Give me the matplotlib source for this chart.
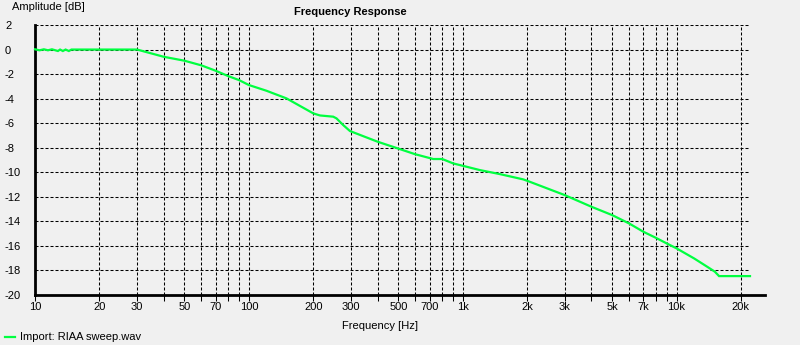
import matplotlib
matplotlib.use("Agg")
import matplotlib.pyplot as plt
from matplotlib.lines import Line2D
from matplotlib.ticker import FixedLocator, NullFormatter

plt.rcParams['font.family'] = ['Liberation Sans', 'DejaVu Sans']

# Data
freq_hz = [10, 10.5, 11, 11.5, 12, 12.8, 13.1, 13.5, 13.9, 14.4, 14.8, 16, 20, 25, 30,
           40, 50, 60, 70, 80, 90, 100, 121, 150, 200, 215, 248, 257, 276, 297,
           400, 508, 597, 700, 728, 802, 903, 1000, 1202, 1493, 1919, 2000,
           3000, 4000, 5000, 6000, 7000, 8000, 9000, 10000, 12080, 14060, 15100,
           15800, 22050]
amp_db = [0.02, -0.06, 0.02, -0.06, 0.02, -0.12, 0.0, -0.12, 0.0, -0.12, 0.0, 0.0, 0.0, 0.0, 0.0,
          -0.59, -0.91, -1.29, -1.73, -2.16, -2.49, -2.89, -3.36, -3.98, -5.2, -5.37, -5.47, -5.61, -6.15, -6.64,
          -7.51, -8.11, -8.52, -8.84, -8.92, -8.92, -9.28, -9.47, -9.82, -10.15, -10.58, -10.69,
          -11.86, -12.81, -13.49, -14.17, -14.85, -15.34, -15.8, -16.2, -17.02, -17.75, -18.1,
          -18.46, -18.46]

x_major = [10, 20, 30, 50, 70, 100, 200, 300, 500, 700, 1000, 2000, 3000, 5000, 7000, 10000, 20000]
x_labels = ['10', '20', '30', '50', '70', '100', '200', '300', '500', '700', '1k', '2k', '3k', '5k', '7k', '10k', '20k']
x_minor = [40, 60, 80, 90, 400, 600, 800, 900, 4000, 6000, 8000, 9000]
y_ticks = [2, 0, -2, -4, -6, -8, -10, -12, -14, -16, -18, -20]

series_name = 'Import: RIAA sweep.wav'
bg = '#F0F0F0'
green = '#00FF40'

W, H = 800, 345
fig = plt.figure(figsize=(W / 100, H / 100), dpi=100, facecolor=bg)
L, R, T, B = 35, 750, 25, 295
ax = fig.add_axes([L / W, 1 - B / H, (R - L) / W, (B - T) / H], facecolor=bg)

ax.plot(freq_hz, amp_db, color=green, lw=1.6, solid_joinstyle='miter', zorder=3, clip_on=False)

ax.set_xscale('log')
ax.set_xlim(10, 22050)
ax.set_ylim(-20, 2)

ax.xaxis.set_major_locator(FixedLocator(x_major))
ax.xaxis.set_minor_locator(FixedLocator(x_minor))
ax.set_xticklabels(x_labels)
ax.xaxis.set_minor_formatter(NullFormatter())
ax.set_yticks(y_ticks)
ax.set_yticklabels([str(v) for v in y_ticks])

dash = (0, (2.9, 1.9))
ax.grid(True, which='both', axis='x', color='black', lw=0.75, linestyle=dash)
ax.grid(True, which='major', axis='y', color='black', lw=0.75, linestyle=dash)

ax.tick_params(axis='x', which='both', direction='out', length=4, width=0.75, color='black',
               labelsize=8, pad=1)
ax.tick_params(axis='y', which='both', length=0, labelsize=8, pad=21.6)
for lab in ax.get_yticklabels():
    lab.set_horizontalalignment('left')

for s in ['top', 'right']:
    ax.spines[s].set_visible(False)
ax.spines['left'].set_linewidth(2)
ax.spines['bottom'].set_visible(False)
# bottom axis line extending past the plot area
ax.add_line(Line2D([0, (765 - L) / (R - L)], [0, 0], transform=ax.transAxes,
                   color='black', lw=2, clip_on=False, zorder=4))

fig.text(12 / W, 1 - 7 / H, 'Amplitude [dB]', fontsize=8, ha='left', va='center')
fig.text(350 / W, 1 - 12 / H, 'Frequency Response', fontsize=8, fontweight='bold',
         ha='center', va='center')
fig.text(380 / W, 1 - 326 / H, 'Frequency [Hz]', fontsize=8, ha='center', va='center')

# legend
fig.add_artist(Line2D([5 / W, 15 / W], [1 - 337 / H, 1 - 337 / H], color=green, lw=1.6,
                      transform=fig.transFigure))
fig.text(20 / W, 1 - 337 / H, series_name, fontsize=8, ha='left', va='center')

fig.savefig('out.png', dpi=100, facecolor=bg)
